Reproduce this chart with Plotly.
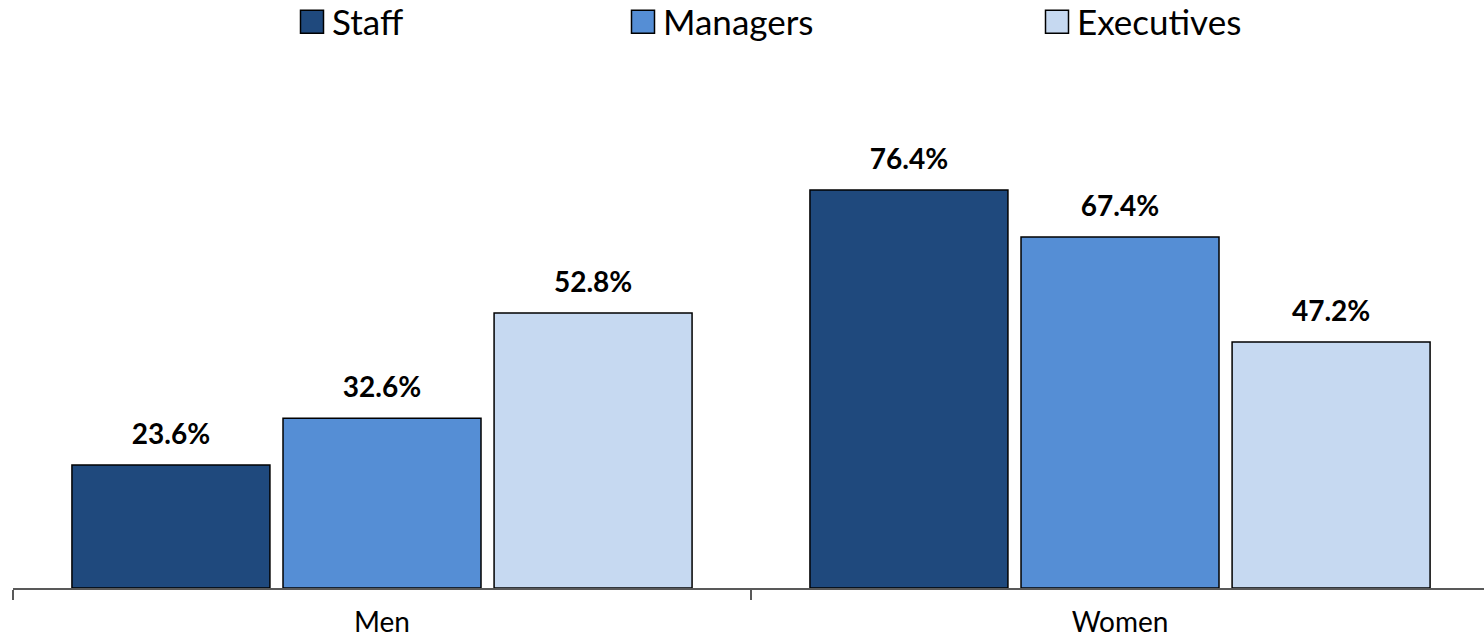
import plotly.graph_objects as go

categories = ["Men", "Women"]
staff = [23.6, 76.4]
managers = [32.6, 67.4]
executives = [52.8, 47.2]

series = [
    ("Staff", staff, "#1F497D", "legend"),
    ("Managers", managers, "#558ED5", "legend2"),
    ("Executives", executives, "#C6D9F1", "legend3"),
]

FONT = "Lato, 'Open Sans', sans-serif"

fig = go.Figure()
for name, vals, color, lg in series:
    fig.add_trace(go.Bar(
        name=name, x=categories, y=vals,
        marker=dict(color=color, line=dict(color="#000000", width=1.5)),
        text=[f"{v:.1f}%" for v in vals],
        textposition="outside",
        textfont=dict(family=FONT, size=28, color="#000000", weight="bold"),
        cliponaxis=False,
        legend=lg,
    ))

W, H = 1484, 642
legend_common = dict(
    orientation="h", xref="container", yref="container",
    yanchor="middle", xanchor="left",
    font=dict(family=FONT, size=35, color="#000000"),
    bgcolor="rgba(0,0,0,0)",
)
fig.update_layout(
    width=W, height=H,
    margin=dict(l=13, r=0, t=100, b=54, autoexpand=False),
    plot_bgcolor="white", paper_bgcolor="white",
    barmode="group", bargap=0.142, bargroupgap=0.062,
    showlegend=True,
    legend=dict(x=(333 - 41) / W, y=1 - 22 / H, **legend_common),
    legend2=dict(x=(664 - 41) / W, y=1 - 22 / H, **legend_common),
    legend3=dict(x=(1078 - 41) / W, y=1 - 22 / H, **legend_common),
    xaxis=dict(
        type="category", range=[-0.5, 1.4932], automargin=False,
        showline=True, linecolor="#595959", linewidth=1.5,
        ticks="outside", tickson="boundaries", ticklen=10,
        tickwidth=1.5, tickcolor="#595959",
        tickfont=dict(family=FONT, size=28, color="#000000"),
        ticklabelstandoff=9,
        showgrid=False, zeroline=False,
    ),
    yaxis=dict(range=[0, 93.68], visible=False, automargin=False,
               showgrid=False, zeroline=False),
)

post = """
document.body.style.margin = '0px';
var gd = document.getElementById('{plot_id}');
function fixStyle() {
  gd.querySelectorAll('.legendpoints path').forEach(function (p) {
    p.setAttribute('d', 'M11.5,11.5H-11.5V-11.5H11.5Z');
    p.style.strokeWidth = '1.5px';
    p.style.stroke = '#000';
  });
  gd.querySelectorAll('.bartext').forEach(function (t) {
    if (!t.dataset.orig) { t.dataset.orig = t.getAttribute('transform') || ''; }
    t.setAttribute('transform', 'translate(0,-12) ' + t.dataset.orig);
  });
}
fixStyle();
setTimeout(fixStyle, 50);
gd.on('plotly_afterplot', function () { setTimeout(fixStyle, 0); });
"""

fig.write_html("out.html", post_script=post, config={"displayModeBar": False})
